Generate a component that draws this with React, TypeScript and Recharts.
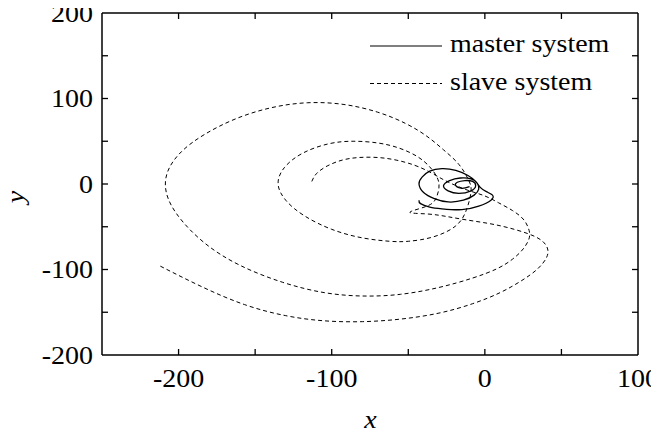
import React from 'react';
import { LineChart, Line, XAxis, YAxis, Legend } from 'recharts';

const xTicks = [-250, -200, -150, -100, -50, 0, 50, 100];
const yTicks = [-200, -150, -100, -50, 0, 50, 100, 150, 200];
const xLabels = [-200, -100, 0, 100];
const yLabels = [-200, -100, 0, 100, 200];
const seriesNames = ['master system', 'slave system'];

const masterX = [-43, -42, -36, -28, -15, -4, 4, 5, 1, -3, -6, -11, -19, -28, -36, -41, -43, -40, -33, -24, -14, -7, -4, -5, -9, -16, -23, -27, -24, -17, -9, -6, -8, -13, -18, -19, -15, -10];
const masterY = [-19, -23, -27, -29, -30, -26, -19, -13, -9, -4, 3, 10, 16, 18, 15, 8, 0, -10, -17, -21, -19, -13, -6, 1, 6, 7, 4, -2, -8, -11, -8, -2, 3, 4, 2, -2, -5, -3];

const slaveX = [-113, -110, -103, -93, -82, -70, -58, -46, -36, -28, -20, -10, 0, 9, 18, 25, 28.5, 29, 25, 18, 8, -8, -30, -55, -80, -105, -132, -160, -183, -200, -208, -207, -198, -183, -163, -140, -116, -92, -70, -52, -38, -27, -17, -11, -9, -12, -19, -34, -50, -62, -80, -100, -118, -130, -135, -131, -119, -102, -86, -70, -56, -44, -36, -31, -30, -32, -38, -49, -38, -25, -12, 2, 15, 28, 37, 41, 40, 34, 24, 10, -8, -30, -55, -80, -105, -130, -157, -185, -212];
const slaveY = [3, 12, 21, 28, 31, 31, 28, 22, 14, 6, -1, -8, -14, -22, -31, -41, -52, -63, -76, -88, -99, -110, -121, -129, -131, -127, -115, -95, -69, -38, -10, 15, 38, 58, 76, 89, 95, 93, 84, 71, 56, 40, 23, 6, -8, -30, -49, -62, -67, -67, -63, -53, -37, -19, 0, 19, 36, 47, 50, 48, 42, 32, 20, 7, -5, -17, -26, -33, -35, -38, -42, -46, -51, -58, -66, -76, -87, -100, -113, -127, -140, -151, -158, -161, -160, -154, -141, -120, -96];

const master = masterX.map((x, i) => ({ x, y: masterY[i] }));
const slave = slaveX.map((x, i) => ({ x, y: slaveY[i] }));

const FONT = '"Liberation Serif", "Times New Roman", serif';
const FS = 25;
const SX = 1.12;
const TICK = 6;

const BottomTick = (p: any) => {
  const { x, y, payload } = p;
  const v = payload.value;
  return (
    <g>
      {v > -250 && v < 100 && <line x1={x} x2={x} y1={y} y2={y - TICK} stroke="#000" strokeWidth={1.3} />}
      {xLabels.includes(v) && (
        <text transform={`translate(${x},${y + 32}) scale(${SX},1)`} textAnchor="middle" fontFamily={FONT} fontSize={FS} fill="#000">{v}</text>
      )}
    </g>
  );
};
const TopTick = (p: any) => {
  const { x, y, payload } = p;
  const v = payload.value;
  return v > -250 && v < 100 ? <line x1={x} x2={x} y1={y} y2={y + TICK} stroke="#000" strokeWidth={1.3} /> : <g />;
};
const LeftTick = (p: any) => {
  const { x, y, payload } = p;
  const v = payload.value;
  return (
    <g>
      {v > -200 && v < 200 && <line x1={x} x2={x + TICK} y1={y} y2={y} stroke="#000" strokeWidth={1.3} />}
      {yLabels.includes(v) && (
        <text transform={`translate(${x - 9},${y + 8.5}) scale(${SX},1)`} textAnchor="end" fontFamily={FONT} fontSize={FS} fill="#000">{v}</text>
      )}
    </g>
  );
};
const RightTick = (p: any) => {
  const { x, y, payload } = p;
  const v = payload.value;
  return v > -200 && v < 200 ? <line x1={x} x2={x - TICK} y1={y} y2={y} stroke="#000" strokeWidth={1.3} /> : <g />;
};

const LegendContent = () => (
  <svg width={270} height={80} style={{ display: 'block' }}>
    <line x1={4} x2={76} y1={18} y2={18} stroke="#000" strokeWidth={1.2} />
    <text transform={`translate(84,24) scale(${SX},1)`} fontFamily={FONT} fontSize={FS} fill="#000">{seriesNames[0]}</text>
    <line x1={4} x2={76} y1={55.5} y2={55.5} stroke="#000" strokeWidth={1} strokeDasharray="4 3" />
    <text transform={`translate(84,61.5) scale(${SX},1)`} fontFamily={FONT} fontSize={FS} fill="#000">{seriesNames[1]}</text>
  </svg>
);

const axisLine = { stroke: '#000', strokeWidth: 1.5 };

export default function App() {
  return (
    <div style={{ margin: '-8px 0 0 -8px', width: 659, height: 433 }}>
      <LineChart width={659} height={433} margin={{ top: 12, right: 20, left: 8, bottom: 0 }}>
        <XAxis xAxisId="b" type="number" dataKey="x" domain={[-250, 100]} ticks={xTicks} interval={0} allowDataOverflow
          axisLine={axisLine} tickLine={false} tickSize={0} tickMargin={0} tick={<BottomTick />} height={78}
          label={() => (
            <text transform={`translate(370.5,428) scale(${SX},1)`} textAnchor="middle" fontFamily={FONT} fontStyle="italic" fontSize={FS} fill="#000">x</text>
          )} />
        <XAxis xAxisId="t" orientation="top" type="number" dataKey="x" domain={[-250, 100]} ticks={xTicks} interval={0} allowDataOverflow
          axisLine={axisLine} tickLine={false} tickSize={0} tickMargin={0} tick={<TopTick />} height={1} />
        <YAxis yAxisId="l" type="number" dataKey="y" domain={[-200, 200]} ticks={yTicks} interval={0} allowDataOverflow
          axisLine={axisLine} tickLine={false} tickSize={0} tickMargin={0} tick={<LeftTick />} width={94}
          label={() => (
            <text transform={`translate(24,197) rotate(-90) scale(${SX},1)`} textAnchor="middle" fontFamily={FONT} fontStyle="italic" fontSize={FS} fill="#000">y</text>
          )} />
        <YAxis yAxisId="r" orientation="right" type="number" dataKey="y" domain={[-200, 200]} ticks={yTicks} interval={0} allowDataOverflow
          axisLine={axisLine} tickLine={false} tickSize={0} tickMargin={0} tick={<RightTick />} width={1} />
        <Line xAxisId="b" yAxisId="l" data={slave} dataKey="y" name={seriesNames[1]} type="natural" stroke="#000" strokeWidth={1}
          strokeDasharray="4 3" dot={false} activeDot={false} isAnimationActive={false} />
        <Line xAxisId="b" yAxisId="l" data={master} dataKey="y" name={seriesNames[0]} type="natural" stroke="#000" strokeWidth={1.3}
          dot={false} activeDot={false} isAnimationActive={false} />
        <Legend layout="vertical" align="center" verticalAlign="middle" content={<LegendContent />}
          wrapperStyle={{ left: 366, top: 28, width: 270, height: 80 }} />
      </LineChart>
    </div>
  );
}
